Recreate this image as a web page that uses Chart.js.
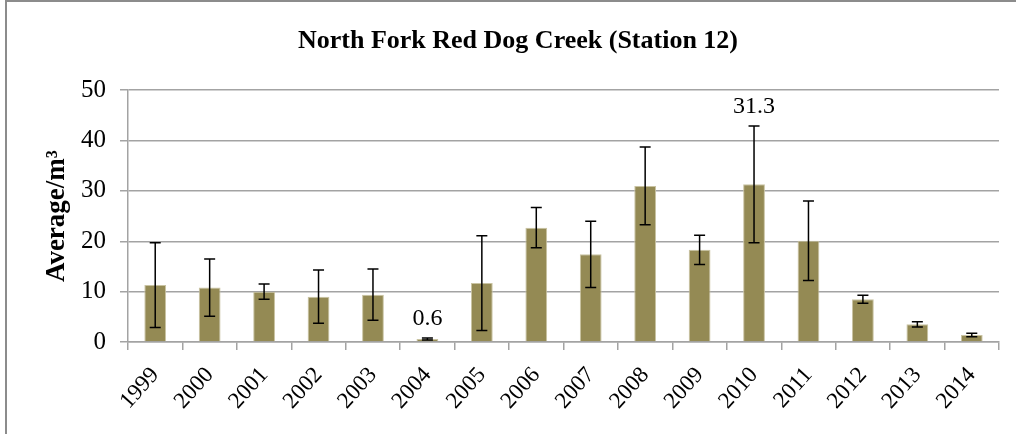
<!DOCTYPE html>
<html>
<head>
<meta charset="utf-8">
<title>North Fork Red Dog Creek (Station 12)</title>
<script src="https://cdn.jsdelivr.net/npm/chart.js@4.4.0/dist/chart.umd.min.js"></script>
<style>
    body { margin: 0; background: #fff; }
    #wrap { position: relative; width: 1016px; height: 434px; }
    #frame { position: absolute; left: 5px; top: 0; right: 0; bottom: -4px;
             border-top: 2px solid #8c8c8c; border-left: 2px solid #8c8c8c; pointer-events: none; }
</style>
</head>
<body>
<div id="wrap">
    <canvas id="stationChart" width="1016" height="434"></canvas>
    <div id="frame"></div>
</div>
<script>
// Chart data
const years = ['1999', '2000', '2001', '2002', '2003', '2004', '2005', '2006',
               '2007', '2008', '2009', '2010', '2011', '2012', '2013', '2014'];
const averages = [11.3, 10.8, 10.0, 9.0, 9.4, 0.6, 11.7, 22.7, 17.4, 31.0, 18.3, 31.3, 20.1, 8.5, 3.5, 1.4];
const errors = [8.4, 5.7, 1.5, 5.3, 5.1, 0.2, 9.4, 4.0, 6.6, 7.7, 2.9, 11.6, 7.9, 0.8, 0.5, 0.35];
const shownLabels = [null, null, null, null, null, '0.6', null, null, null, null, null, '31.3', null, null, null, null];
const yTicks = [0, 10, 20, 30, 40, 50];

const serif = "'Liberation Serif', 'Times New Roman', serif";
const gridGray = '#a3a3a3';

// Draw error bars and the two value labels
const errorBarPlugin = {
    id: 'errorBars',
    afterDatasetsDraw(chart) {
        const ctx = chart.ctx;
        const yScale = chart.scales.y;
        const meta = chart.getDatasetMeta(0);
        ctx.save();
        ctx.strokeStyle = '#000';
        ctx.lineWidth = 1.5;
        meta.data.forEach((bar, i) => {
            const top = yScale.getPixelForValue(averages[i] + errors[i]);
            const bottom = yScale.getPixelForValue(Math.max(0, averages[i] - errors[i]));
            ctx.beginPath();
            ctx.moveTo(bar.x, top);
            ctx.lineTo(bar.x, bottom);
            ctx.moveTo(bar.x - 5.5, top);
            ctx.lineTo(bar.x + 5.5, top);
            ctx.moveTo(bar.x - 5.5, bottom);
            ctx.lineTo(bar.x + 5.5, bottom);
            ctx.stroke();

            if (shownLabels[i]) {
                ctx.fillStyle = '#000';
                ctx.font = '24px ' + serif;
                ctx.textAlign = 'center';
                ctx.textBaseline = 'middle';
                ctx.fillText(shownLabels[i], bar.x, top - 19);
            }
        });
        ctx.restore();
    }
};

const ctx = document.getElementById('stationChart').getContext('2d');
new Chart(ctx, {
    type: 'bar',
    data: {
        labels: years,
        datasets: [{
            label: 'Average/m³',
            data: averages,
            backgroundColor: '#948a54',
            borderColor: '#c9c3a2',
            borderWidth: 1,
            categoryPercentage: 0.8,
            barPercentage: 0.5
        }]
    },
    options: {
        responsive: false,
        animation: false,
        layout: { padding: { left: 37, right: 17, top: 0, bottom: 0 } },
        plugins: {
            legend: { display: false },
            tooltip: { enabled: false },
            title: {
                display: true,
                text: 'North Fork Red Dog Creek (Station 12)',
                color: '#000',
                font: { family: serif, size: 26, weight: 'bold' },
                padding: { top: 26, bottom: 33 }
            }
        },
        scales: {
            x: {
                grid: { drawOnChartArea: false, drawTicks: true, tickLength: 8, color: gridGray, lineWidth: 1.5 },
                border: { color: gridGray, width: 1.5 },
                ticks: {
                    color: '#000',
                    font: { family: serif, size: 23 },
                    minRotation: 48,
                    maxRotation: 48,
                    padding: 12
                },
                afterFit(scale) { scale.height = 92; }
            },
            y: {
                min: 0,
                max: 50,
                afterBuildTicks(scale) { scale.ticks = yTicks.map(v => ({ value: v })); },
                grid: { color: gridGray, lineWidth: 1.5, tickLength: 8 },
                border: { color: gridGray, width: 1.5 },
                ticks: {
                    color: '#000',
                    font: { family: serif, size: 25 },
                    padding: 14
                },
                title: {
                    display: true,
                    text: 'Average/m³',
                    color: '#000',
                    font: { family: serif, size: 27, weight: 'bold' },
                    padding: { top: 4, bottom: 0 }
                },
                afterFit(scale) { scale.width = 91; }
            }
        }
    },
    plugins: [errorBarPlugin]
});
</script>
</body>
</html>
